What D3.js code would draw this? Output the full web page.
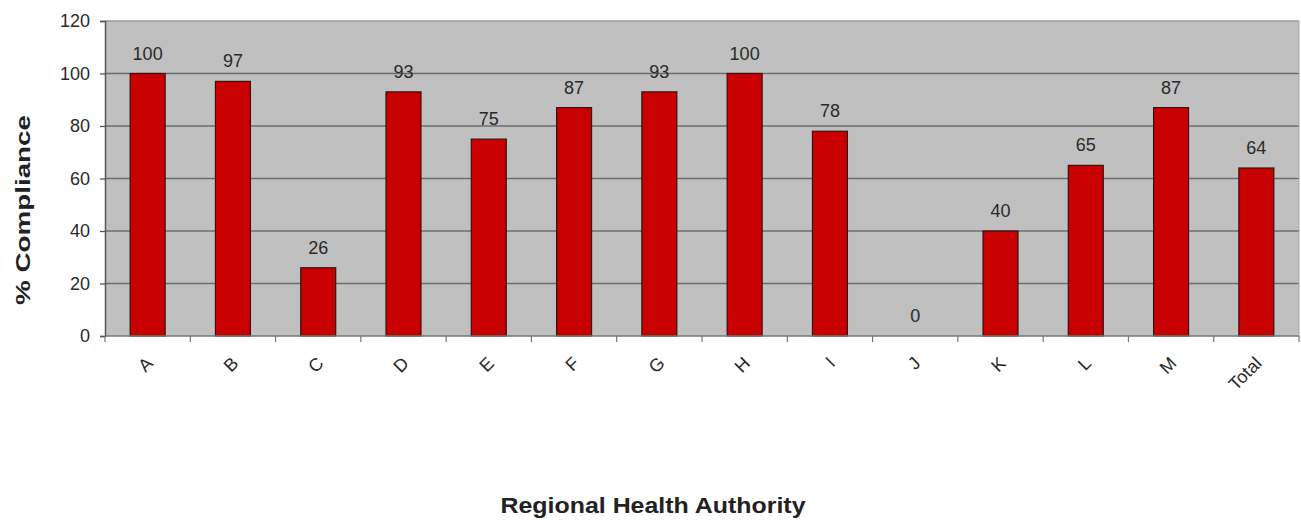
<!DOCTYPE html>
<html><head><meta charset="utf-8">
<script src="https://cdn.jsdelivr.net/npm/d3@7"></script>
<style>body{margin:0;background:#fff}svg{display:block}text{font-family:Arial,"Liberation Sans",sans-serif}</style>
</head><body><svg id="c" width="1301" height="522"></svg>
<script>
const categories = ["A","B","C","D","E","F","G","H","I","J","K","L","M","Total"];
const values = [100,97,26,93,75,87,93,100,78,0,40,65,87,64];
const yTicks = [0,20,40,60,80,100,120];

const svg = d3.select("#c");
const L = 105, R = 1299, T = 21, B = 336;
const x = d3.scaleBand().domain(categories).range([L, R]).paddingInner(0.59).paddingOuter(0.295);
const xb = d3.scaleBand().domain(categories).range([L, R]);
const y = d3.scaleLinear().domain([0,120]).range([B, T]);

svg.append("rect").attr("x", L).attr("y", T).attr("width", R-L).attr("height", B-T).attr("fill", "#c0c0c0");
svg.append("g").selectAll("line").data(yTicks.filter(d=>d>0)).join("line")
  .attr("x1", L).attr("x2", R).attr("y1", d=>y(d)).attr("y2", d=>y(d))
  .attr("stroke", d=>d===120?"#9a9a9a":"#6e6e6e").attr("stroke-width", 1.3);
svg.append("line").attr("x1", R).attr("x2", R).attr("y1", T).attr("y2", B).attr("stroke", "#a8a8a8");

svg.append("g").selectAll("rect").data(values).join("rect")
  .attr("x", (d,i)=>x(categories[i])).attr("width", x.bandwidth())
  .attr("y", d=>y(d)).attr("height", d=>B-y(d))
  .attr("fill", "#c80000").attr("stroke", "#3a1010").attr("stroke-width", 1.2);

svg.append("g").selectAll("text").data(values).join("text")
  .attr("x", (d,i)=>x(categories[i]) + x.bandwidth()/2).attr("y", d=>y(d)-14)
  .attr("text-anchor", "middle").attr("font-size", 18).attr("fill", "#2a2a2a").text(d=>d);

// axes
const yAxis = d3.axisLeft(y).tickValues(yTicks).tickSize(5).tickPadding(10);
const gy = svg.append("g").attr("transform", `translate(${L},0)`).call(yAxis);
gy.select(".domain").attr("stroke", "#555").attr("stroke-width", 1.5);
gy.selectAll(".tick line").attr("stroke", "#555").attr("stroke-width", 1.3);
gy.selectAll(".tick text").attr("font-size", 18).attr("fill", "#2a2a2a").attr("font-family", "Arial, Liberation Sans, sans-serif");

const gx = svg.append("g").attr("transform", `translate(0,${B})`);
gx.append("line").attr("x1", L).attr("x2", R).attr("stroke", "#777").attr("stroke-width", 1.5);
gx.selectAll(".tk").data(categories).join("line").attr("class","tk")
  .attr("x1", d=>xb(d)+xb.bandwidth()).attr("x2", d=>xb(d)+xb.bandwidth()).attr("y1", 0).attr("y2", 6)
  .attr("stroke", "#777").attr("stroke-width", 1.2);
gx.append("line").attr("x1", L).attr("x2", L).attr("y1", 0).attr("y2", 6).attr("stroke", "#777").attr("stroke-width", 1.2);
gx.selectAll(".lb").data(categories).join("text").attr("class","lb")
  .attr("transform", d=>`translate(${xb(d)+xb.bandwidth()/2+2},${24}) rotate(-45)`)
  .attr("text-anchor", "end").attr("dy", "0.35em").attr("font-size", 18).attr("fill", "#2a2a2a").text(d=>d);

svg.append("text").attr("transform", `translate(30,${210}) rotate(-90)`)
  .attr("text-anchor", "middle").attr("font-size", 21).attr("font-weight", "bold").attr("fill", "#222")
  .attr("textLength", 190).attr("lengthAdjust", "spacingAndGlyphs").text("% Compliance");
svg.append("text").attr("x", 653).attr("y", 513)
  .attr("text-anchor", "middle").attr("font-size", 22).attr("font-weight", "bold").attr("fill", "#222")
  .attr("textLength", 305).attr("lengthAdjust", "spacingAndGlyphs").text("Regional Health Authority");
</script></body></html>
